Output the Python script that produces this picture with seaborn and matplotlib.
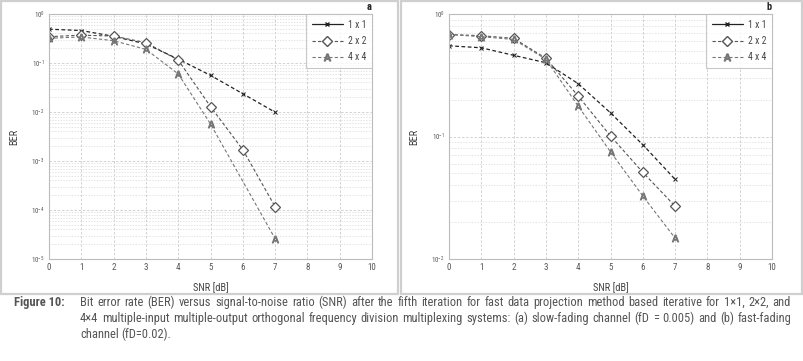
import numpy as np
import pandas as pd
import matplotlib
matplotlib.use("Agg")
import matplotlib.pyplot as plt
from matplotlib.lines import Line2D
from matplotlib.patches import Rectangle
from matplotlib.ticker import LogLocator, NullFormatter
from matplotlib import font_manager
import seaborn as sns

# SNR points [dB]
snr = [0, 1, 2, 3, 4, 5, 6, 7]
snr_4x4_a = [0, 1, 2, 3, 4, 5, 7]   # no point at 6 dB in panel a

# (a) slow-fading channel
ber_a_1x1 = [0.49, 0.46, 0.35, 0.245, 0.12, 0.056, 0.0236, 0.0099]
ber_a_2x2 = [0.345, 0.37, 0.355, 0.26, 0.115, 0.0129, 0.00170, 0.000117]
ber_a_4x4 = [0.32, 0.34, 0.285, 0.19, 0.06, 0.0057, 0.000026]

# (b) fast-fading channel
ber_b_1x1 = [0.55, 0.53, 0.46, 0.40, 0.27, 0.156, 0.0857, 0.0447]
ber_b_2x2 = [0.68, 0.665, 0.633, 0.435, 0.214, 0.101, 0.051, 0.027]
ber_b_4x4 = [0.68, 0.653, 0.62, 0.427, 0.177, 0.075, 0.0327, 0.0148]

labels = ["1 x 1", "2 x 2", "4 x 4"]
caption_lines = [
    "Bit error rate (BER) versus signal-to-noise ratio (SNR) after the fifth iteration for fast data projection method based iterative for 1\u00d71, 2\u00d72, and",
    "4\u00d74 multiple-input multiple-output orthogonal frequency division multiplexing systems: (a) slow-fading channel (fD = 0.005) and (b) fast-fading",
    "channel (fD=0.02).",
]

sns.set_style("white")
installed = {f.name for f in font_manager.fontManager.ttflist}
narrow = [f for f in ["Liberation Sans Narrow", "Roboto Condensed", "Liberation Sans"] if f in installed]
plt.rcParams["font.family"] = narrow[:1] + ["DejaVu Sans"]

W, H = 804, 361
fig = plt.figure(figsize=(W / 100, H / 100), dpi=100)

def fx(px):
    return px / W

def fy(py):
    return 1 - py / H

# panel frames
for x0, x1 in [(1, 398), (401, 802)]:
    fig.patches.append(Rectangle((fx(x0), fy(294)), fx(x1 - x0), 293 / H,
                                 transform=fig.transFigure, fill=False,
                                 edgecolor="#cfcfcf", linewidth=1.6))

A_MARK = r"$\mathsf{A}$"
styles = [
    dict(marker="x", markersize=3, color="#222222", mec="#222222", linestyle=(0, (3, 2)), linewidth=0.9),
    dict(marker="D", markersize=5, color="#555555", mfc="white", mec="#555555", mew=0.9,
         linestyle=(0, (3, 2)), linewidth=0.8),
    dict(marker=A_MARK, markersize=5, color="#777777", mec="#777777",
         linestyle=(0, (3, 2)), linewidth=0.8),
]

def draw_panel(ax, series, ylim, letter):
    for (xs, ys), st in zip(series, styles):
        sns.lineplot(x=xs, y=ys, ax=ax, **st)
    ax.set_yscale("log")
    ax.set_xlim(0, 10)
    ax.set_ylim(*ylim)
    ax.set_xticks(range(0, 11))
    ax.yaxis.set_major_locator(LogLocator(base=10))
    ax.yaxis.set_minor_locator(LogLocator(base=10, subs=np.arange(2, 10)))
    ax.yaxis.set_minor_formatter(NullFormatter())
    ax.grid(True, which="major", color="#cccccc", linestyle=(0, (3, 2)), linewidth=0.6)
    ax.grid(True, which="minor", axis="y", color="#d8d8d8", linestyle=(0, (2, 2)), linewidth=0.5)
    ax.tick_params(which="both", length=0, labelsize=6.5, colors="#555555", pad=3)
    ax.tick_params(axis="y", labelsize=5)
    for sp in ax.spines.values():
        sp.set_color("#bbbbbb")
        sp.set_linewidth(0.8)
    ax.set_xlabel("SNR [dB]", fontsize=7.5, color="#444444")
    ax.set_ylabel("BER", fontsize=7.5, color="#444444")
    ax.xaxis.set_label_coords(0.5, -0.094)
    ax.yaxis.set_label_coords(-0.093, 0.5)
    handles = [
        Line2D([], [], color="#222222", marker="x", markersize=3, linewidth=0.9),
        Line2D([], [], color="#555555", marker="D", markersize=5, mfc="white", mec="#555555",
               linestyle=(0, (3, 2)), linewidth=0.8),
        Line2D([], [], color="#777777", marker=A_MARK, markersize=5,
               linestyle=(0, (3, 2)), linewidth=0.8),
    ]
    leg = ax.legend(handles, labels, loc="upper right", fontsize=7, frameon=True,
                    fancybox=False, borderaxespad=0, handlelength=3.2,
                    labelspacing=0.65, borderpad=0.6, handletextpad=0.5)
    leg.get_frame().set_edgecolor("#bbbbbb")
    leg.get_frame().set_linewidth(0.8)
    for t in leg.get_texts():
        t.set_color("#444444")
    ax.text(1.0, 1.029, letter, transform=ax.transAxes, ha="right", va="center",
            fontsize=7.5, fontweight="bold", color="#222222")

ax_a = fig.add_axes([fx(49), fy(259), fx(323), 245 / H])
draw_panel(ax_a, [(snr, ber_a_1x1), (snr, ber_a_2x2), (snr_4x4_a, ber_a_4x4)], (1e-5, 1), "a")

ax_b = fig.add_axes([fx(449), fy(259), fx(323), 245 / H])
draw_panel(ax_b, [(snr, ber_b_1x1), (snr, ber_b_2x2), (snr, ber_b_4x4)], (1e-2, 1), "b")

# caption, justified word by word
renderer = fig.canvas.get_renderer()
X0, X1 = 80, 791

def word_widths(words, size):
    out = []
    for w in words:
        t = fig.text(0, 0, w, fontsize=size)
        out.append(t.get_window_extent(renderer).width)
        t.remove()
    return out

cap_size = 10.5
for _ in range(30):
    ok = True
    for line in caption_lines[:2]:
        ws = line.split(" ")
        if sum(word_widths(ws, cap_size)) + 3.0 * (len(ws) - 1) > X1 - X0:
            ok = False
    if ok:
        break
    cap_size -= 0.25

fig.text(fx(14), fy(306), "Figure 10:", fontsize=cap_size, fontweight="bold", color="#555555",
         va="baseline", ha="left")

def justified(line, y, justify=True):
    words = line.split(" ")
    widths = word_widths(words, cap_size)
    gap = (X1 - X0 - sum(widths)) / (len(words) - 1) if justify else 3.0
    x = X0
    for w, wd in zip(words, widths):
        fig.text(fx(x), fy(y), w, fontsize=cap_size, color="#555555", va="baseline", ha="left")
        x += wd + gap

justified(caption_lines[0], 306)
justified(caption_lines[1], 322)
justified(caption_lines[2], 338, justify=False)

fig.savefig("out.png", dpi=100)
